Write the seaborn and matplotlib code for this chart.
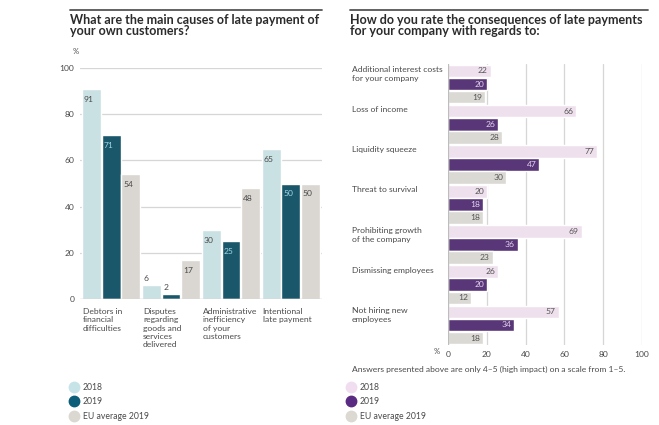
import matplotlib
matplotlib.use("Agg")
import matplotlib.pyplot as plt
from matplotlib.lines import Line2D
import pandas as pd
import seaborn as sns

# left panel: causes of late payment
causes = [
    "Debtors in\nfinancial\ndifficulties",
    "Disputes\nregarding\ngoods and\nservices\ndelivered",
    "Administrative\ninefficiency\nof your\ncustomers",
    "Intentional\nlate payment",
]
causes_2018 = [91, 6, 30, 65]
causes_2019 = [71, 2, 25, 50]
causes_eu = [54, 17, 48, 50]

# right panel: consequences of late payment
consequences = [
    "Additional interest costs\nfor your company",
    "Loss of income",
    "Liquidity squeeze",
    "Threat to survival",
    "Prohibiting growth\nof the company",
    "Dismissing employees",
    "Not hiring new\nemployees",
]
cons_2018 = [22, 66, 77, 20, 69, 26, 57]
cons_2019 = [20, 26, 47, 18, 36, 20, 34]
cons_eu = [19, 28, 30, 18, 23, 12, 18]

series = ["2018", "2019", "EU average 2019"]
left_ticks = [0, 20, 40, 60, 80, 100]
right_ticks = [0, 20, 40, 60, 80, 100]

TEAL = ["#c6e4e8", "#0d5e78", "#dbd7d1"]
PURPLE = ["#f1ddf0", "#5a2b82", "#dcd9d3"]
TXT = "#4a4a4a"
GRID = "#d6d6d6"
FS = 6.1

sns.set_style("white")
plt.rcParams["font.family"] = ["Lato", "DejaVu Sans"]


def long_frame(cats, a, b, c, col):
    rows = []
    for name, vals in zip(series, [a, b, c]):
        for cat, v in zip(cats, vals):
            rows.append({col: cat, "series": name, "value": v})
    return pd.DataFrame(rows)


fig = plt.figure(figsize=(6.59, 4.25), dpi=100)
W, H = 659, 425


def fx(px):
    return px / W


def fy(py):
    return 1 - py / H


# ---- left chart
axl = fig.add_axes([fx(80), fy(299), fx(322) - fx(80), fy(68) - fy(299)])
dfl = long_frame(causes, causes_2018, causes_2019, causes_eu, "cause")
sns.barplot(data=dfl, x="cause", y="value", hue="series", palette=TEAL,
            width=0.98, gap=0.04, ax=axl, legend=False, zorder=3)
axl.set_ylim(0, 100)
axl.set_xlim(-0.52, 3.52)
axl.set_yticks(left_ticks)
axl.set_yticklabels([str(t) for t in left_ticks], fontsize=FS, color=TXT)
axl.tick_params(axis="y", length=0, pad=4)
axl.set_xticks([])
axl.set_xlabel("")
axl.set_ylabel("")
for t in left_ticks[1:]:
    axl.axhline(t, color=GRID, lw=0.9, zorder=1)
axl.axhline(0, color="#bdbdbd", lw=1.0, zorder=4)
sns.despine(ax=axl, left=True, bottom=True)

label_cols = [TXT, "#9fd6e3", TXT]
for k, cont in enumerate(axl.containers):
    for bar in cont:
        h = bar.get_height()
        x0 = bar.get_x() + 0.03
        if h < 10:
            axl.text(x0, h + 1.5, f"{h:.0f}", fontsize=FS, color=TXT,
                     ha="left", va="bottom", zorder=5)
        else:
            axl.text(x0, h - 3, f"{h:.0f}", fontsize=FS, color=label_cols[k],
                     ha="left", va="top", zorder=5)

for i, cat in enumerate(causes):
    axl.text(i - 0.47, -4, cat, fontsize=FS, color=TXT, ha="left", va="top",
             linespacing=1.2)

fig.text(fx(73), fy(52), "%", fontsize=5.5, color=TXT, ha="left", va="center")

# ---- right chart
axr = fig.add_axes([fx(448), fy(345), fx(642) - fx(448), fy(64) - fy(345)])
dfr = long_frame(consequences, cons_2018, cons_2019, cons_eu, "cons")
sns.barplot(data=dfr, y="cons", x="value", hue="series", palette=PURPLE,
            orient="h", width=0.98, gap=0.04, ax=axr, legend=False, zorder=3)
axr.set_xlim(0, 100)
axr.set_ylim(6.5, -0.5)
axr.set_yticks([])
axr.set_ylabel("")
axr.set_xlabel("")
axr.set_xticks(right_ticks)
axr.set_xticklabels([str(t) for t in right_ticks], fontsize=FS, color=TXT)
axr.tick_params(axis="x", length=0, pad=4)
for t in right_ticks[1:]:
    axr.axvline(t, color=GRID, lw=0.9, zorder=1)
axr.axvline(0, color="#bdbdbd", lw=1.0, zorder=4)
sns.despine(ax=axr, left=True, bottom=True)

rlabel_cols = ["#555555", "#e3d3ef", "#555555"]
for k, cont in enumerate(axr.containers):
    for bar in cont:
        w = bar.get_width()
        yc = bar.get_y() + bar.get_height() / 2
        axr.text(w - 1.5, yc, f"{w:.0f}", fontsize=FS, color=rlabel_cols[k],
                 ha="right", va="center", zorder=5)

for i, cat in enumerate(consequences):
    axr.text(-49.5, i - 0.45, cat, fontsize=FS, color=TXT, ha="left", va="top",
             linespacing=1.35)

fig.text(fx(437), fy(352), "%", fontsize=5.5, color=TXT, ha="center", va="center")

# ---- titles and rules
fig.add_artist(Line2D([fx(70), fx(322)], [fy(10), fy(10)], color="#555555", lw=1.3))
fig.add_artist(Line2D([fx(350), fx(648)], [fy(10), fy(10)], color="#555555", lw=1.3))
fig.text(fx(70), fy(14), "What are the main causes of late payment of\nyour own customers?",
         fontsize=9.0, fontweight="bold", color="#2b2b2b", ha="left", va="top",
         linespacing=0.92)
fig.text(fx(350), fy(14), "How do you rate the consequences of late payments\nfor your company with regards to:",
         fontsize=9.0, fontweight="bold", color="#2b2b2b", ha="left", va="top",
         linespacing=0.92)

fig.text(fx(352), fy(369), "Answers presented above are only 4\u20135 (high impact) on a scale from 1\u20135.",
         fontsize=6.1, color=TXT, ha="left", va="center")


def legend_handles(colors):
    return [Line2D([], [], marker="o", ls="", markersize=7.5,
                   markerfacecolor=c, markeredgecolor=c) for c in colors]


for x0, pal in [(70, TEAL), (347, PURPLE)]:
    fig.legend(legend_handles(pal), series, loc="upper left",
               bbox_to_anchor=(fx(x0), fy(383)), frameon=False, fontsize=6.2,
               labelcolor=TXT, handletextpad=0.5, labelspacing=0.62,
               handlelength=1.0, borderaxespad=0, borderpad=0)

fig.savefig("out.png", dpi=100)
